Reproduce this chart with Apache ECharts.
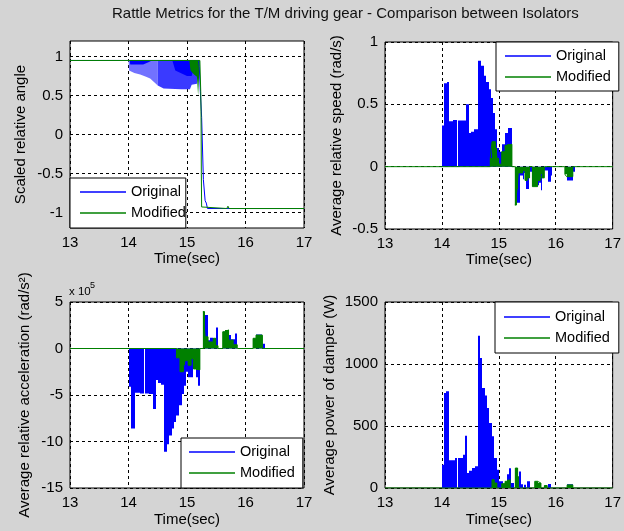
<!DOCTYPE html>
<html>
<head>
<meta charset="utf-8">
<script src="https://cdn.jsdelivr.net/npm/echarts@6/dist/echarts.min.js"></script>
<style>
  html, body { margin: 0; padding: 0; background: #d4d4d4; }
  #chart { width: 624px; height: 531px; }
</style>
</head>
<body>
<div id="chart"></div>
<script>
// ---- data: time in seconds, [t, value] pairs; values hold until the next time stamp ----
const timeRange = [13, 17];
const angleTicks = [-1, -0.5, 0, 0.5, 1];

// Scaled relative angle
const angleOrig = [[13,0.95],[15.2,0.95],[15.21,0.87],[15.225,0.6],[15.25,0.22],[15.28,-0.58],[15.31,-0.85],[15.33,-0.88],[15.35,-0.95],[17,-0.95]];
const angleMod  = [[13,0.95],[15.22,0.95],[15.235,0.55],[15.24,0.3],[15.245,-0.5],[15.25,-0.93],[15.26,-0.95],[15.68,-0.95],[15.7,-0.92],[15.72,-0.95],[17,-0.95]];
// lower edge of the chatter band (upper edge is the 0.95 plateau)
const angleOrigLowA = [[14.0,0.95],[14.01,0.82],[14.1,0.79],[14.2,0.77],[14.3,0.74],[14.37,0.72],[14.44,0.67],[14.5,0.63]];
const angleOrigLowB = [[14.5,0.63],[14.55,0.61],[14.6,0.59],[14.9,0.58],[15.05,0.58],[15.08,0.64],[15.17,0.65],[15.2,0.9]];
const angleOrigTop  = [[14.02,0.95],[14.03,0.9],[14.25,0.9],[14.35,0.93],[14.4,0.95]];
const angleOrigCore = [[14.75,0.95],[14.8,0.82],[15.0,0.75],[15.08,0.75],[15.12,0.85],[15.2,0.95]];
const angleModLow   = [[15.04,0.95],[15.06,0.82],[15.12,0.77],[15.17,0.74],[15.19,0.5],[15.215,0.48],[15.22,0.95]];

// Average relative speed (rad/s)
const speedOrig = [[13,0],[14.0,0.33],[14.045,0.67],[14.09,0.68],[14.12,0.365],[14.2,0.375],[14.265,0],[14.29,0.37],[14.43,0.5],[14.47,0.27],[14.51,0.28],[14.57,0.3],[14.64,0.85],[14.68,0.81],[14.74,0.73],[14.78,0.68],[14.82,0.62],[14.86,0.55],[14.9,0.43],[14.94,0.3],[14.97,0.15],[15.0,0.12],[15.05,0.18],[15.11,0.27],[15.16,0.31],[15.23,0],[15.32,-0.29],[15.38,-0.07],[15.42,-0.1],[15.45,-0.05],[15.48,-0.18],[15.53,-0.04],[15.58,0],[15.6,-0.15],[15.7,-0.13],[15.74,-0.19],[15.76,-0.07],[15.8,-0.03],[15.87,-0.12],[15.91,-0.07],[15.93,0],[16.19,-0.11],[16.31,-0.04],[16.33,0],[17,0]];
const speedMod  = [[13,0],[14.85,0.07],[14.88,0.2],[14.94,0.15],[14.97,0.07],[15.0,0.02],[15.05,0.12],[15.11,0.17],[15.15,0.18],[15.23,0],[15.29,-0.31],[15.32,-0.18],[15.34,-0.05],[15.42,-0.03],[15.46,-0.11],[15.5,-0.09],[15.54,0],[15.59,-0.16],[15.68,-0.11],[15.73,-0.06],[15.75,-0.09],[15.8,0],[16.16,-0.06],[16.19,-0.08],[16.3,0],[17,0]];

// Average relative acceleration (x 10^5 rad/s^2)
const accOrig = [[13,0],[14.0,-4.1],[14.04,-8.6],[14.11,-4.75],[14.2,-4.85],[14.265,0],[14.29,-4.85],[14.35,-4.9],[14.42,-6.5],[14.47,-3.4],[14.51,-3.7],[14.555,-3.9],[14.61,-11.1],[14.65,-10.3],[14.69,-9.35],[14.74,-8.6],[14.78,-7.9],[14.82,-7.2],[14.86,-6.1],[14.91,-4.9],[14.955,-4.0],[14.985,-2.5],[15.02,-3.1],[15.11,-2.2],[15.15,-3.1],[15.18,-4.0],[15.22,0],[15.31,3.6],[15.36,0.9],[15.4,1.15],[15.45,0.6],[15.49,2.27],[15.53,0],[15.61,1.8],[15.65,2.0],[15.71,1.44],[15.75,1.0],[15.82,1.6],[15.86,0],[16.18,1.5],[16.29,0.5],[16.33,0],[17,0]];
const accMod  = [[13,0],[14.82,-1.0],[14.88,-2.5],[14.94,-1.8],[14.97,-1.3],[15.02,-1.8],[15.07,-1.1],[15.11,-2.2],[15.15,-2.3],[15.22,0],[15.28,4.0],[15.31,1.26],[15.36,0.7],[15.45,1.1],[15.49,0.3],[15.53,0],[15.61,1.8],[15.65,2.0],[15.71,0.9],[15.79,0.4],[15.86,0],[16.13,1.1],[16.18,1.44],[16.29,0],[17,0]];

// Average power of damper (W)
const powOrig = [[13,0],[14.0,188],[14.04,766],[14.08,780],[14.12,223],[14.225,242],[14.265,0],[14.29,242],[14.37,269],[14.41,422],[14.44,121],[14.48,140],[14.53,161],[14.58,175],[14.64,1228],[14.67,1048],[14.71,806],[14.75,745],[14.79,645],[14.835,524],[14.88,417],[14.92,242],[14.965,148],[15.0,54],[15.08,27],[15.14,110],[15.18,160],[15.22,40],[15.26,0],[15.355,134],[15.395,30],[15.42,0],[15.44,27],[15.48,0],[15.5,54],[15.54,0],[15.7,40],[15.74,0],[15.87,32],[15.91,0],[16.19,30],[16.31,0],[17,0]];
const powMod  = [[13,0],[14.88,67],[14.92,40],[14.965,0],[15.05,35],[15.11,54],[15.15,67],[15.2,0],[15.29,161],[15.33,94],[15.35,0],[15.63,54],[15.68,40],[15.74,0],[15.8,20],[15.85,0],[16.2,25],[16.3,0],[17,0]];

const legendNames = ['Original', 'Modified'];

// ---- styling ----
const FONT = '"Liberation Sans", Arial, Helvetica, sans-serif';
const BLUE = '#0000ff';
const GREEN = '#008000';
const BLUE_LIGHT = '#7272ff';   // sparse chatter strokes
const BLUE_MID = '#3a3aff';     // dense chatter strokes

const grids = [
  { left: 70,  top: 41,  width: 234, height: 187 },
  { left: 385, top: 42,  width: 234, height: 187 },
  { left: 70,  top: 302, width: 234, height: 186 },
  { left: 385, top: 302, width: 235, height: 186 }
].map(g => Object.assign({ show: true, backgroundColor: '#fff', borderColor: '#000', borderWidth: 1 }, g));

const gridLine = { show: true, lineStyle: { color: '#000', width: 1, type: [3, 3] } };
const tickFont = { fontSize: 15, color: '#000', fontFamily: FONT };

const xAxes = grids.map((g, i) => ({
  type: 'value', gridIndex: i, min: timeRange[0], max: timeRange[1], interval: 1,
  name: 'Time(sec)', nameLocation: 'middle', nameGap: i < 2 ? 22 : 24,
  nameTextStyle: { fontSize: 15, color: '#000', fontFamily: FONT },
  axisLine: { show: false }, axisTick: { show: false },
  axisLabel: Object.assign({ margin: 7 }, tickFont),
  splitLine: gridLine
}));

function yAxis(i, name, gap, extra) {
  return Object.assign({
    type: 'value', gridIndex: i, name, nameLocation: 'middle', nameGap: gap, nameRotate: 90,
    nameTextStyle: { fontSize: 15, color: '#000', fontFamily: FONT },
    axisLine: { show: false }, axisTick: { show: false },
    axisLabel: Object.assign({ margin: 7, formatter: v => String(v) }, tickFont),
    splitLine: gridLine
  }, extra);
}

const yAxes = [
  yAxis(0, 'Scaled relative angle', 42, {
    min: -1.2, max: 1.2,
    axisTick: { show: false, customValues: angleTicks },
    axisLabel: Object.assign({ margin: 7, customValues: angleTicks, formatter: v => String(v) }, tickFont)
  }),
  yAxis(1, 'Average relative speed (rad/s)', 41, { min: -0.5, max: 1, interval: 0.5 }),
  yAxis(2, 'Average relative acceleration (rad/s\u00B2)', 38, { min: -15, max: 5, interval: 5 }),
  yAxis(3, 'Average power of damper (W)', 48, { min: 0, max: 1500, interval: 500 })
];

// The whole held-value trace becomes one filled outline (staircase closed on the zero line)
function heldFill(name, steps, color, idx) {
  return {
    type: 'custom', name, xAxisIndex: idx, yAxisIndex: idx, silent: true,
    itemStyle: { color },
    encode: { x: 0, y: 1 },
    data: [[steps[0][0], 0]],
    renderItem: (params, api) => {
      const pts = [];
      for (let i = 0; i < steps.length - 1; i++) {
        const v = steps[i][1];
        const p0 = api.coord([steps[i][0], v]);
        const p1 = api.coord([steps[i + 1][0], v]);
        pts.push([Math.round(p0[0]), p0[1]], [Math.round(p1[0]), p1[1]]);
      }
      pts.push(api.coord([steps[steps.length - 1][0], 0]), api.coord([steps[0][0], 0]));
      return { type: 'polygon', shape: { points: pts }, style: { fill: color, stroke: null, lineWidth: 0 } };
    }
  };
}
function stepLine(name, data, color, idx) {
  return {
    type: 'line', name, data, xAxisIndex: idx, yAxisIndex: idx,
    step: 'end', symbol: 'none', showSymbol: false, silent: true,
    lineStyle: { color, width: 1 }, itemStyle: { color }
  };
}
function traceSeries(name, data, color, idx) {
  return {
    type: 'line', name, data, xAxisIndex: idx, yAxisIndex: idx,
    symbol: 'none', showSymbol: false, silent: true,
    lineStyle: { color, width: 1 }, itemStyle: { color }
  };
}
function bandSeries(name, data, fill, top, idx, color) {
  return {
    type: 'line', name, data, xAxisIndex: idx, yAxisIndex: idx,
    symbol: 'none', showSymbol: false, silent: true,
    lineStyle: { width: 0, opacity: 0 }, itemStyle: { color },
    areaStyle: { color: fill, opacity: 1, origin: top }
  };
}

const series = [
  traceSeries('Original', angleOrig, BLUE, 0),
  bandSeries('Original', angleOrigLowA, BLUE_LIGHT, 0.95, 0, BLUE),
  bandSeries('Original', angleOrigLowB, BLUE_MID, 0.95, 0, BLUE),
  bandSeries('Original', angleOrigTop, BLUE, 0.95, 0, BLUE),
  bandSeries('Original', angleOrigCore, BLUE, 0.95, 0, BLUE),
  bandSeries('Modified', angleModLow, GREEN, 0.95, 0, GREEN),
  traceSeries('Modified', angleMod, GREEN, 0)
];
[[speedOrig, speedMod], [accOrig, accMod], [powOrig, powMod]].forEach(([o, m], k) => {
  const idx = k + 1;
  series.push(
    heldFill('Original', o, BLUE, idx),
    heldFill('Modified', m, GREEN, idx),
    stepLine('Modified', m, GREEN, idx)
  );
});

function legendBox(left, top, pad) {
  return {
    data: legendNames, left, top, orient: 'vertical', icon: 'rect',
    itemWidth: 46, itemHeight: 1.5, itemGap: 5, padding: pad,
    backgroundColor: '#fff', borderColor: '#000', borderWidth: 1, borderRadius: 0,
    selectedMode: false,
    textStyle: { fontSize: 14.5, color: '#000', fontFamily: FONT, lineHeight: 16 }
  };
}

const option = {
  animation: false,
  backgroundColor: '#d4d4d4',
  title: {
    text: 'Rattle Metrics for the T/M driving gear - Comparison between Isolators',
    left: 112, top: 6, padding: 0,
    textStyle: { fontSize: 15, fontWeight: 'normal', color: '#111', fontFamily: FONT }
  },
  grid: grids,
  xAxis: xAxes,
  yAxis: yAxes,
  legend: [
    legendBox(70, 178, [6, 0, 7, 10]),
    legendBox(496, 42, [6, 8, 6, 9]),
    legendBox(181, 438, [6, 8, 7, 8]),
    legendBox(495, 302, [7, 9, 7, 9])
  ],
  graphic: [
    { type: 'text', left: 69, top: 286, style: { text: 'x 10', fontSize: 11.5, fill: '#000', fontFamily: FONT } },
    { type: 'text', left: 90, top: 281, style: { text: '5', fontSize: 9, fill: '#000', fontFamily: FONT } }
  ],
  series
};

echarts.init(document.getElementById('chart'), null, { renderer: 'canvas' }).setOption(option);
</script>
</body>
</html>
